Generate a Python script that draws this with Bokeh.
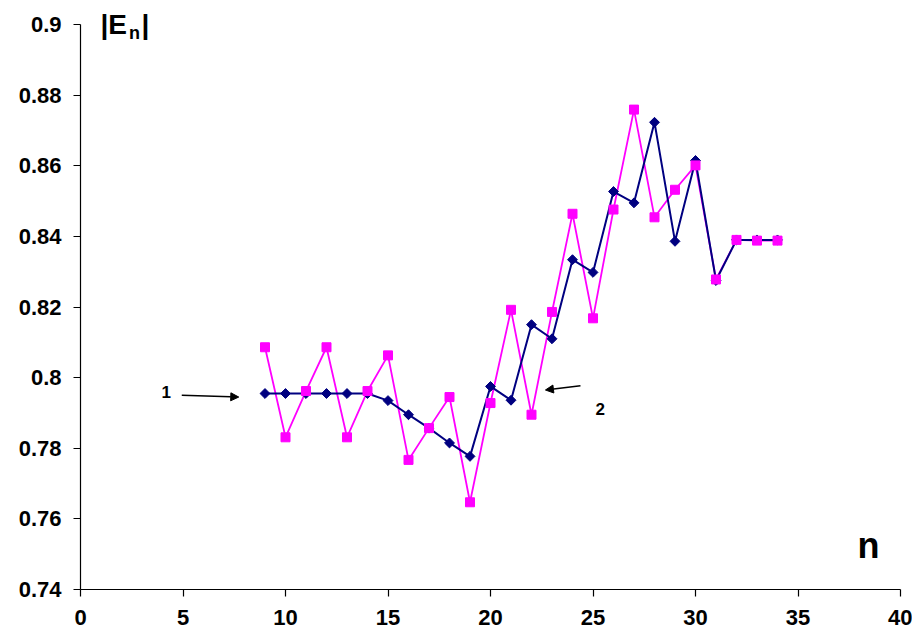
from bokeh.plotting import figure
from bokeh.models import Range1d, FixedTicker, Label, Arrow, NormalHead, ColumnDataSource
from bokeh.embed import file_html
from bokeh.resources import INLINE
import math

# ---- data ----
n_values = list(range(9, 35))
series1 = [0.7955, 0.7955, 0.7955, 0.7955, 0.7955, 0.7955, 0.7935, 0.7895, 0.7857,
           0.7815, 0.7777, 0.7975, 0.7936, 0.8150, 0.8110, 0.8334, 0.8298, 0.8527,
           0.8495, 0.8723, 0.8386, 0.8615, 0.8275, 0.8390, 0.8390, 0.8390]
series2 = [0.8086, 0.7831, 0.7962, 0.8086, 0.7831, 0.7962, 0.8063, 0.7767, 0.7857,
           0.7945, 0.7647, 0.7928, 0.8192, 0.7895, 0.8186, 0.8464, 0.8168, 0.8476,
           0.8759, 0.8454, 0.8532, 0.8601, 0.8278, 0.8390, 0.8388, 0.8388]
x_ticks = [0, 5, 10, 15, 20, 25, 30, 35, 40]
y_ticks = [0.74, 0.76, 0.78, 0.8, 0.82, 0.84, 0.86, 0.88, 0.9]
y_tick_labels = ["0.74", "0.76", "0.78", "0.8", "0.82", "0.84", "0.86", "0.88", "0.9"]

FONT = "Liberation Sans"

# frame extends 20px above the 0.9 tick so the |En| title is not clipped
y_top = 0.9 + 20 * 0.16 / 565

p = figure(width=912, height=634, output_backend="svg", toolbar_location=None,
           x_range=Range1d(0, 40), y_range=Range1d(0.74, y_top),
           min_border_left=80, min_border_right=12, min_border_top=4, min_border_bottom=45)
p.outline_line_color = None
p.xgrid.visible = False
p.ygrid.visible = False
p.background_fill_color = "white"
p.border_fill_color = "white"

for ax in (p.xaxis[0], p.yaxis[0]):
    ax.major_tick_in = 0
    ax.major_tick_out = 7
    ax.minor_tick_line_color = None
    ax.axis_line_color = "black"
    ax.axis_line_width = 1.2
    ax.major_tick_line_width = 1.2
    ax.major_label_text_font = FONT
    ax.major_label_text_font_style = "bold"
    ax.major_label_text_font_size = "22px"
    ax.major_label_text_color = "black"

p.xaxis.ticker = FixedTicker(ticks=x_ticks)
p.yaxis.ticker = FixedTicker(ticks=y_ticks)
p.yaxis.bounds = (0.74, 0.9)
p.yaxis.major_label_overrides = {t: l for t, l in zip(y_ticks, y_tick_labels)}
p.xaxis.major_label_standoff = 13
p.yaxis.major_label_standoff = 12

src = ColumnDataSource(dict(n=n_values, s1=series1, s2=series2))

p.line("n", "s2", source=src, line_color="#FF00FF", line_width=1.8)
p.line("n", "s1", source=src, line_color="#000080", line_width=2)
p.scatter("n", "s1", source=src, marker="square", angle=math.pi / 4, size=7,
          fill_color="#000080", line_color="#000080")
p.scatter("n", "s2", source=src, marker="square", size=9,
          fill_color="#FF00FF", line_color="#FF00FF")

def lab(x, y, text, size):
    p.add_layout(Label(x=x, y=y, text=text, text_font=FONT, text_font_style="bold",
                       text_font_size=size, text_color="black", text_baseline="alphabetic"))

# axis titles
lab(0.97, 0.9000, "|E", "28px")
lab(2.36, 0.8975, "n", "18px")
lab(2.98, 0.9000, "|", "28px")
lab(37.9, 0.7524, "n", "36px")

# curve markers
lab(3.95, 0.7958, "1", "17px")
lab(25.12, 0.7910, "2", "17px")
p.add_layout(Arrow(x_start=4.94, y_start=0.7950, x_end=7.72, y_end=0.7945, line_width=1.5,
                   line_color="black",
                   end=NormalHead(size=8, fill_color="black", line_color="black")))
p.add_layout(Arrow(x_start=24.39, y_start=0.7977, x_end=22.68, y_end=0.7965, line_width=1.5,
                   line_color="black",
                   end=NormalHead(size=8, fill_color="black", line_color="black")))

open("out.html", "w").write(file_html(p, INLINE))
